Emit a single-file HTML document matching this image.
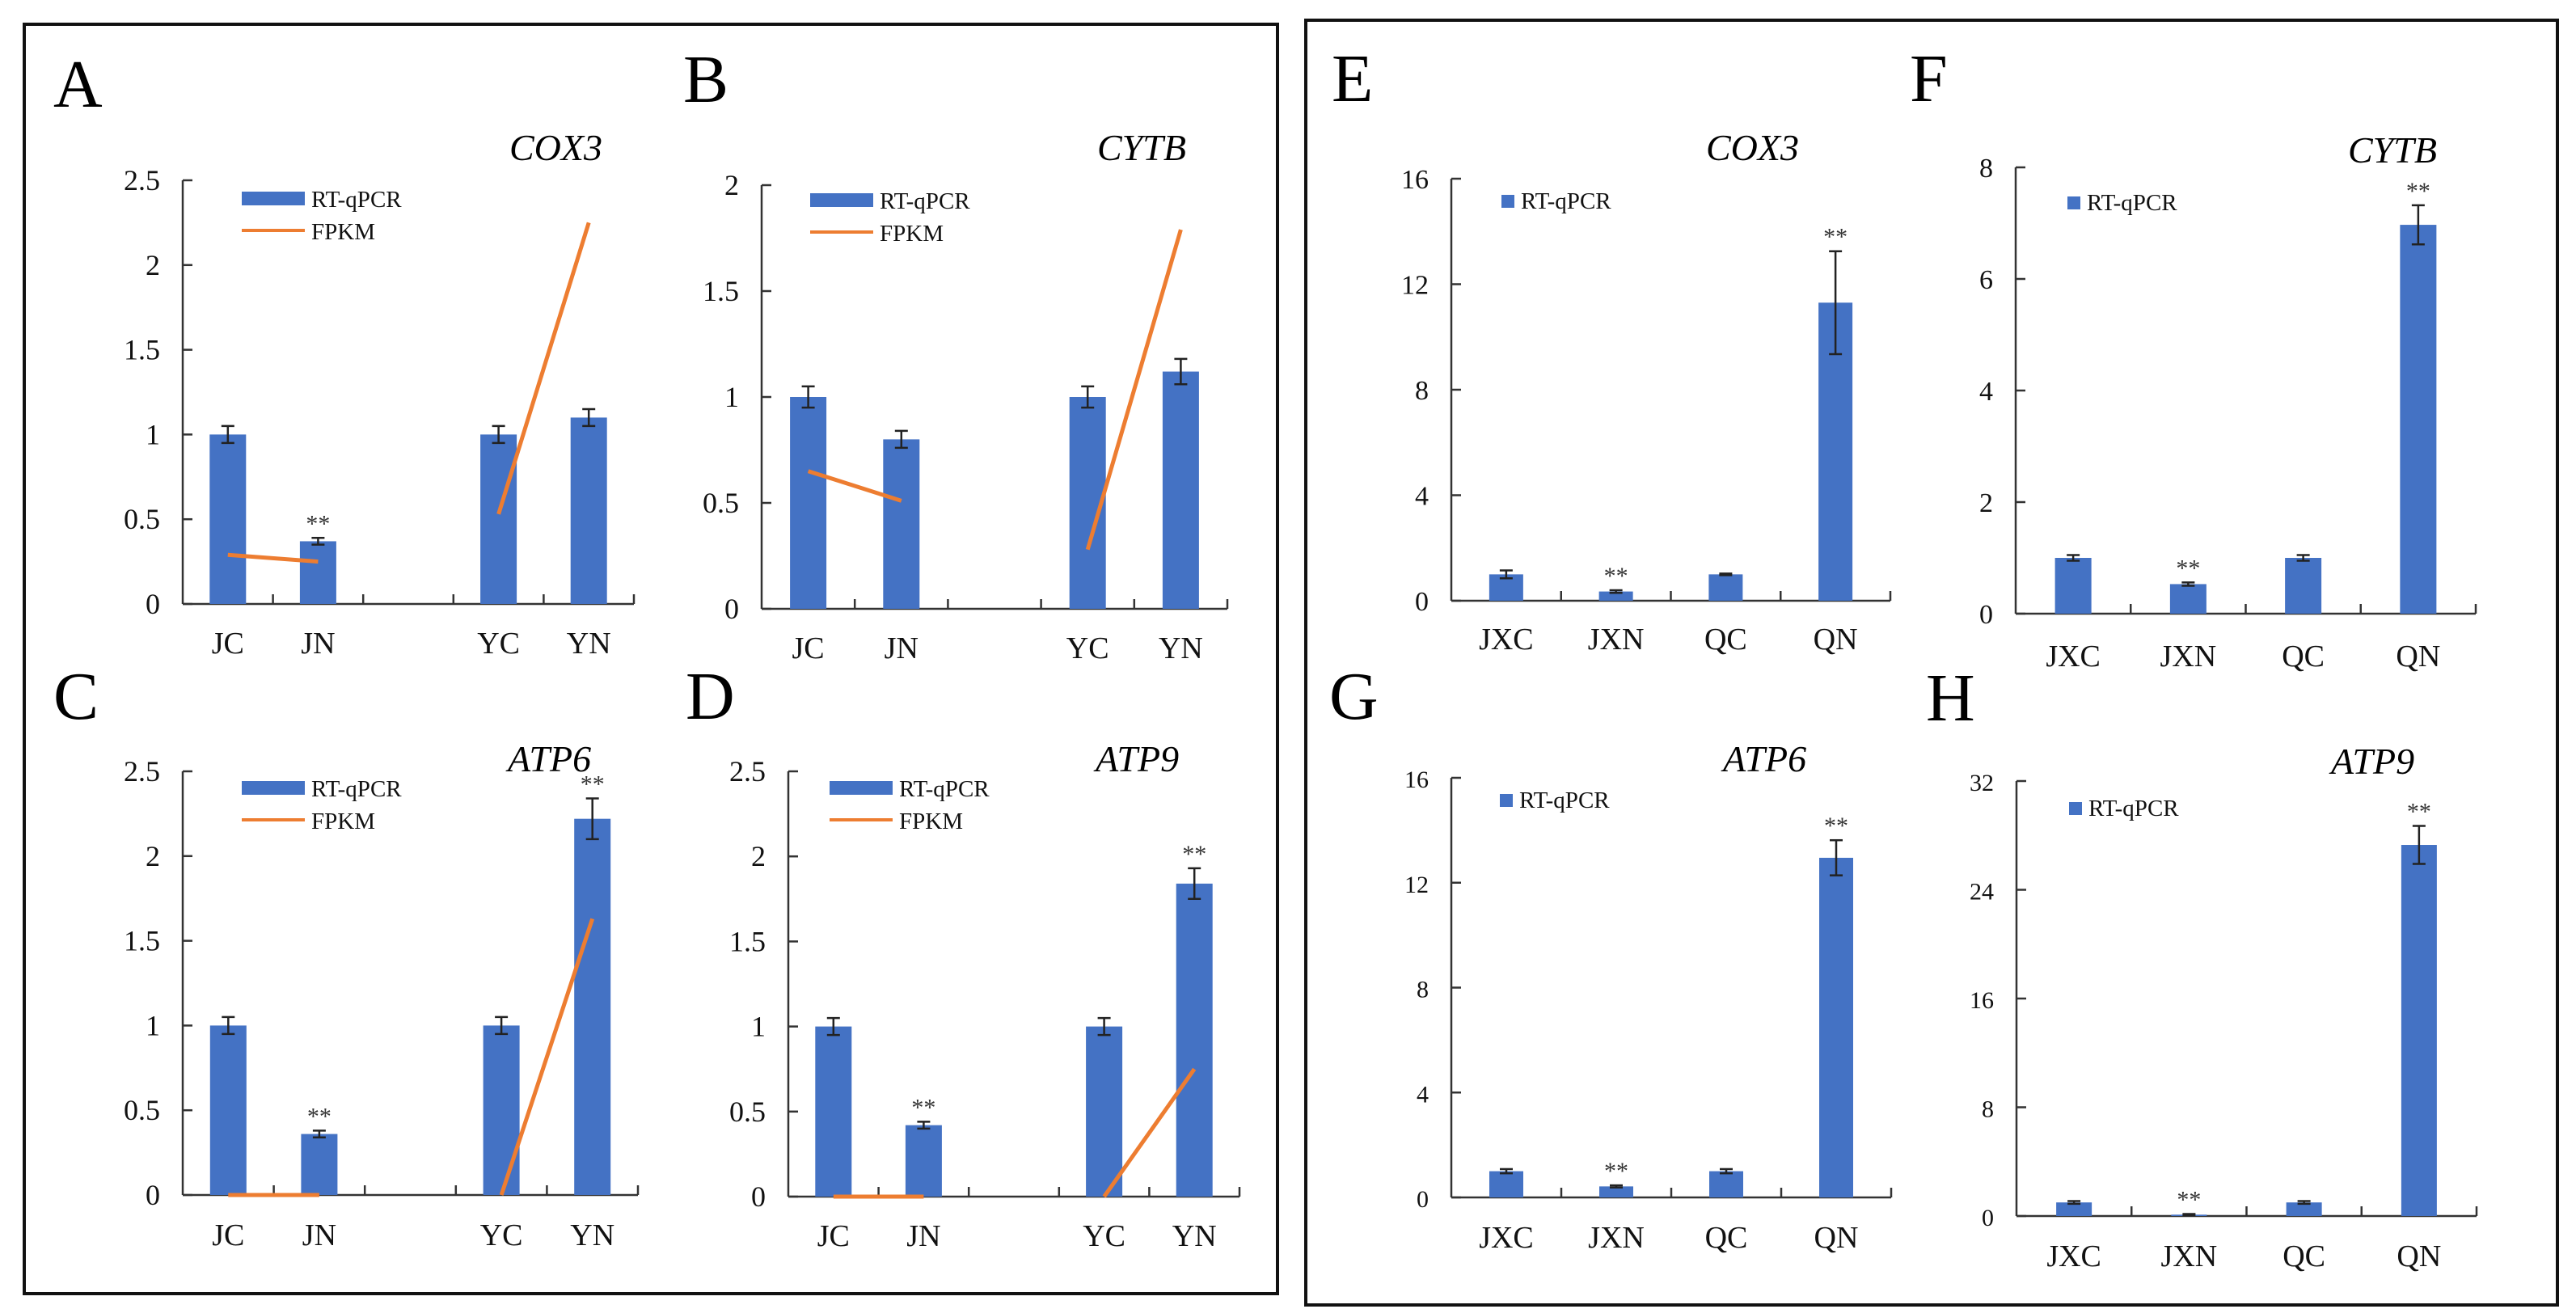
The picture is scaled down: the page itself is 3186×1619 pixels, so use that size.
<!DOCTYPE html>
<html><head><meta charset="utf-8"><style>
html,body{margin:0;padding:0;background:#fff;}
svg{display:block;font-family:"Liberation Serif",serif;}
</style></head>
<body>
<svg id="fig" width="3186" height="1619" viewBox="0 0 3186 1619" xmlns="http://www.w3.org/2000/svg">
<rect x="0" y="0" width="3186" height="1619" fill="#fff"/>
<rect x="30" y="30" width="1550" height="1570" fill="none" stroke="#111" stroke-width="4"/>
<rect x="1615" y="25" width="1548" height="1589" fill="none" stroke="#111" stroke-width="4"/>
</svg>
<script>
// ---- data ----
const catsJ = ["JC","JN","","YC","YN"];
const catsQ = ["JXC","JXN","QC","QN"];
const ticksA = ["0","0.5","1","1.5","2","2.5"];
const ticksB = ["0","0.5","1","1.5","2"];
const ticksE = ["0","4","8","12","16"];
const ticksF = ["0","2","4","6","8"];
const ticksH = ["0","8","16","24","32"];
const qpcrA = [1,0.37,null,1,1.1];   const errA = [0.05,0.02,null,0.05,0.05];  const fpkmA = [0.29,0.25,null,0.53,2.25];
const qpcrB = [1,0.8,null,1,1.12];   const errB = [0.05,0.04,null,0.05,0.06];  const fpkmB = [0.65,0.51,null,0.28,1.79];
const qpcrC = [1,0.36,null,1,2.22];  const errC = [0.05,0.02,null,0.05,0.12];  const fpkmC = [0,0,null,0,1.63];
const qpcrD = [1,0.42,null,1,1.84];  const errD = [0.05,0.02,null,0.05,0.09];  const fpkmD = [0,0,null,0,0.75];
const qpcrE = [1,0.35,1,11.3];   const errE = [0.15,0.05,0.03,1.95];
const qpcrF = [1,0.53,1,6.97];   const errF = [0.05,0.03,0.05,0.35];
const qpcrG = [1,0.42,1,12.95];  const errG = [0.08,0.04,0.08,0.67];
const qpcrH = [1,0.1,1,27.3];    const errH = [0.1,0.05,0.1,1.4];
const starsA = [0,1,0,0,0]; const starsB=[0,0,0,0,0]; const starsC=[0,1,0,0,1]; const starsD=[0,1,0,0,1];
const starsQ = [0,1,0,1];

const NS="http://www.w3.org/2000/svg";
const svg=document.getElementById('fig');
const BLUE="#4472C4", ORANGE="#ED7D31";
function el(tag,attrs,parent,text){const e=document.createElementNS(NS,tag);for(const k in attrs)e.setAttribute(k,attrs[k]);if(text!==undefined)e.textContent=text;(parent||svg).appendChild(e);return e;}

function panel(p){
  const g=el('g',{});
  
  
  const n=p.cats.length, slot=(p.x1-p.x0)/n;
  const ymax=parseFloat(p.ticks[p.ticks.length-1]);
  const X=i=>p.x0+slot*(i+0.5);
  const Y=v=>p.y0-(v/ymax)*(p.y0-p.yt);
  const L=el('text',{x:p.lx,y:p.ly,'font-size':84},g,p.letter);
  
  const T=el('text',{x:p.tx,y:p.ty,'font-size':46,'font-style':'italic'},g,p.title);
  
  // axes
  el('line',{x1:p.x0,y1:p.yt,x2:p.x0,y2:p.y0,stroke:'#333','stroke-width':2.5},g);
  el('line',{x1:p.x0,y1:p.y0,x2:p.x1,y2:p.y0,stroke:'#333','stroke-width':2.5},g);
  p.ticks.forEach(t=>{const v=parseFloat(t),y=Y(v);
    el('line',{x1:p.x0,y1:y,x2:p.x0+12,y2:y,stroke:'#333','stroke-width':2.5},g);
    const tl=el('text',{x:p.x0-28,y:y+12,'font-size':p.tfs,'text-anchor':'end',fill:'#111'},g,t);
    
  });
  for(let i=1;i<=n;i++){const x=p.x0+slot*i;el('line',{x1:x,y1:p.y0,x2:x,y2:p.y0-12,stroke:'#333','stroke-width':2.5},g);}
  p.cats.forEach((c,i)=>{if(!c)return;const cl=el('text',{x:X(i),y:p.cy,'font-size':38,'text-anchor':'middle',fill:'#111'},g,c);
    });
  // bars
  p.vals.forEach((v,i)=>{if(v===null)return;
    const b=el('rect',{x:X(i)-p.bw/2,y:Y(v),width:p.bw,height:p.y0-Y(v),fill:BLUE},g);
    
    const e=p.errs[i],yt=Y(v+e),yb=Y(v-e);
    el('line',{x1:X(i),y1:yt,x2:X(i),y2:yb,stroke:'#222','stroke-width':2.5},g);
    el('line',{x1:X(i)-8,y1:yt,x2:X(i)+8,y2:yt,stroke:'#222','stroke-width':2.5},g);
    el('line',{x1:X(i)-8,y1:yb,x2:X(i)+8,y2:yb,stroke:'#222','stroke-width':2.5},g);
    if(p.stars[i]){const s=el('text',{x:X(i),y:yt-8,'font-size':30,'text-anchor':'middle',fill:'#333'},g,'**');
      }
  });
  // fpkm line segments
  if(p.fpkm){
    for(let i=0;i<n-1;i++){const a=p.fpkm[i],b=p.fpkm[i+1];if(a===null||b===null)continue;
      const ln=el('line',{x1:X(i),y1:Y(a),x2:X(i+1),y2:Y(b),stroke:ORANGE,'stroke-width':5},g);
      }
    const lr=el('rect',{x:p.gx,y:p.gy,width:78,height:17,fill:BLUE},g);
    
    el('text',{x:p.gx+86,y:p.gy+19,'font-size':29,fill:'#111'},g,'RT-qPCR');
    const ll=el('line',{x1:p.gx,y1:p.gy+48,x2:p.gx+78,y2:p.gy+48,stroke:ORANGE,'stroke-width':4},g);
    
    el('text',{x:p.gx+86,y:p.gy+59,'font-size':29,fill:'#111'},g,'FPKM');
  } else {
    const lr=el('rect',{x:p.gx,y:p.gy,width:16,height:16,fill:BLUE},g);
    
    el('text',{x:p.gx+24,y:p.gy+17,'font-size':29,fill:'#111'},g,'RT-qPCR');
  }
}

panel({letter:'A',title:'COX3',lx:66,ly:132,tx:630,ty:198,x0:226,x1:784,yt:223,y0:747,cy:808,bw:45,tfs:36,cats:catsJ,ticks:ticksA,vals:qpcrA,errs:errA,fpkm:fpkmA,stars:starsA,gx:299,gy:237});
panel({letter:'B',title:'CYTB',lx:845,ly:126,tx:1357,ty:198,x0:942,x1:1518,yt:229,y0:753,cy:814,bw:45,tfs:36,cats:catsJ,ticks:ticksB,vals:qpcrB,errs:errB,fpkm:fpkmB,stars:starsB,gx:1002,gy:239});
panel({letter:'C',title:'ATP6',lx:66,ly:889,tx:628,ty:954,x0:226,x1:789,yt:954,y0:1478,cy:1540,bw:45,tfs:36,cats:catsJ,ticks:ticksA,vals:qpcrC,errs:errC,fpkm:fpkmC,stars:starsC,gx:299,gy:966});
panel({letter:'D',title:'ATP9',lx:848,ly:889,tx:1355,ty:954,x0:975,x1:1533,yt:954,y0:1480,cy:1541,bw:45,tfs:36,cats:catsJ,ticks:ticksA,vals:qpcrD,errs:errD,fpkm:fpkmD,stars:starsD,gx:1026,gy:966});
panel({letter:'E',title:'COX3',lx:1647,ly:125,tx:2110,ty:198,x0:1795,x1:2338,yt:221,y0:743,cy:803,bw:42,tfs:34,cats:catsQ,ticks:ticksE,vals:qpcrE,errs:errE,stars:starsQ,gx:1857,gy:241});
panel({letter:'F',title:'CYTB',lx:2362,ly:125,tx:2904,ty:201,x0:2493,x1:3062,yt:207,y0:759,cy:824,bw:45,tfs:34,cats:catsQ,ticks:ticksF,vals:qpcrF,errs:errF,stars:starsQ,gx:2557,gy:243});
panel({letter:'G',title:'ATP6',lx:1644,ly:889,tx:2131,ty:954,x0:1795,x1:2339,yt:962,y0:1481,cy:1543,bw:42,tfs:30,cats:catsQ,ticks:ticksE,vals:qpcrG,errs:errG,stars:starsQ,gx:1855,gy:982});
panel({letter:'H',title:'ATP9',lx:2382,ly:891,tx:2883,ty:957,x0:2494,x1:3063,yt:966,y0:1504,cy:1566,bw:44,tfs:30,cats:catsQ,ticks:ticksH,vals:qpcrH,errs:errH,stars:starsQ,gx:2559,gy:992});
</script>
</body></html>
